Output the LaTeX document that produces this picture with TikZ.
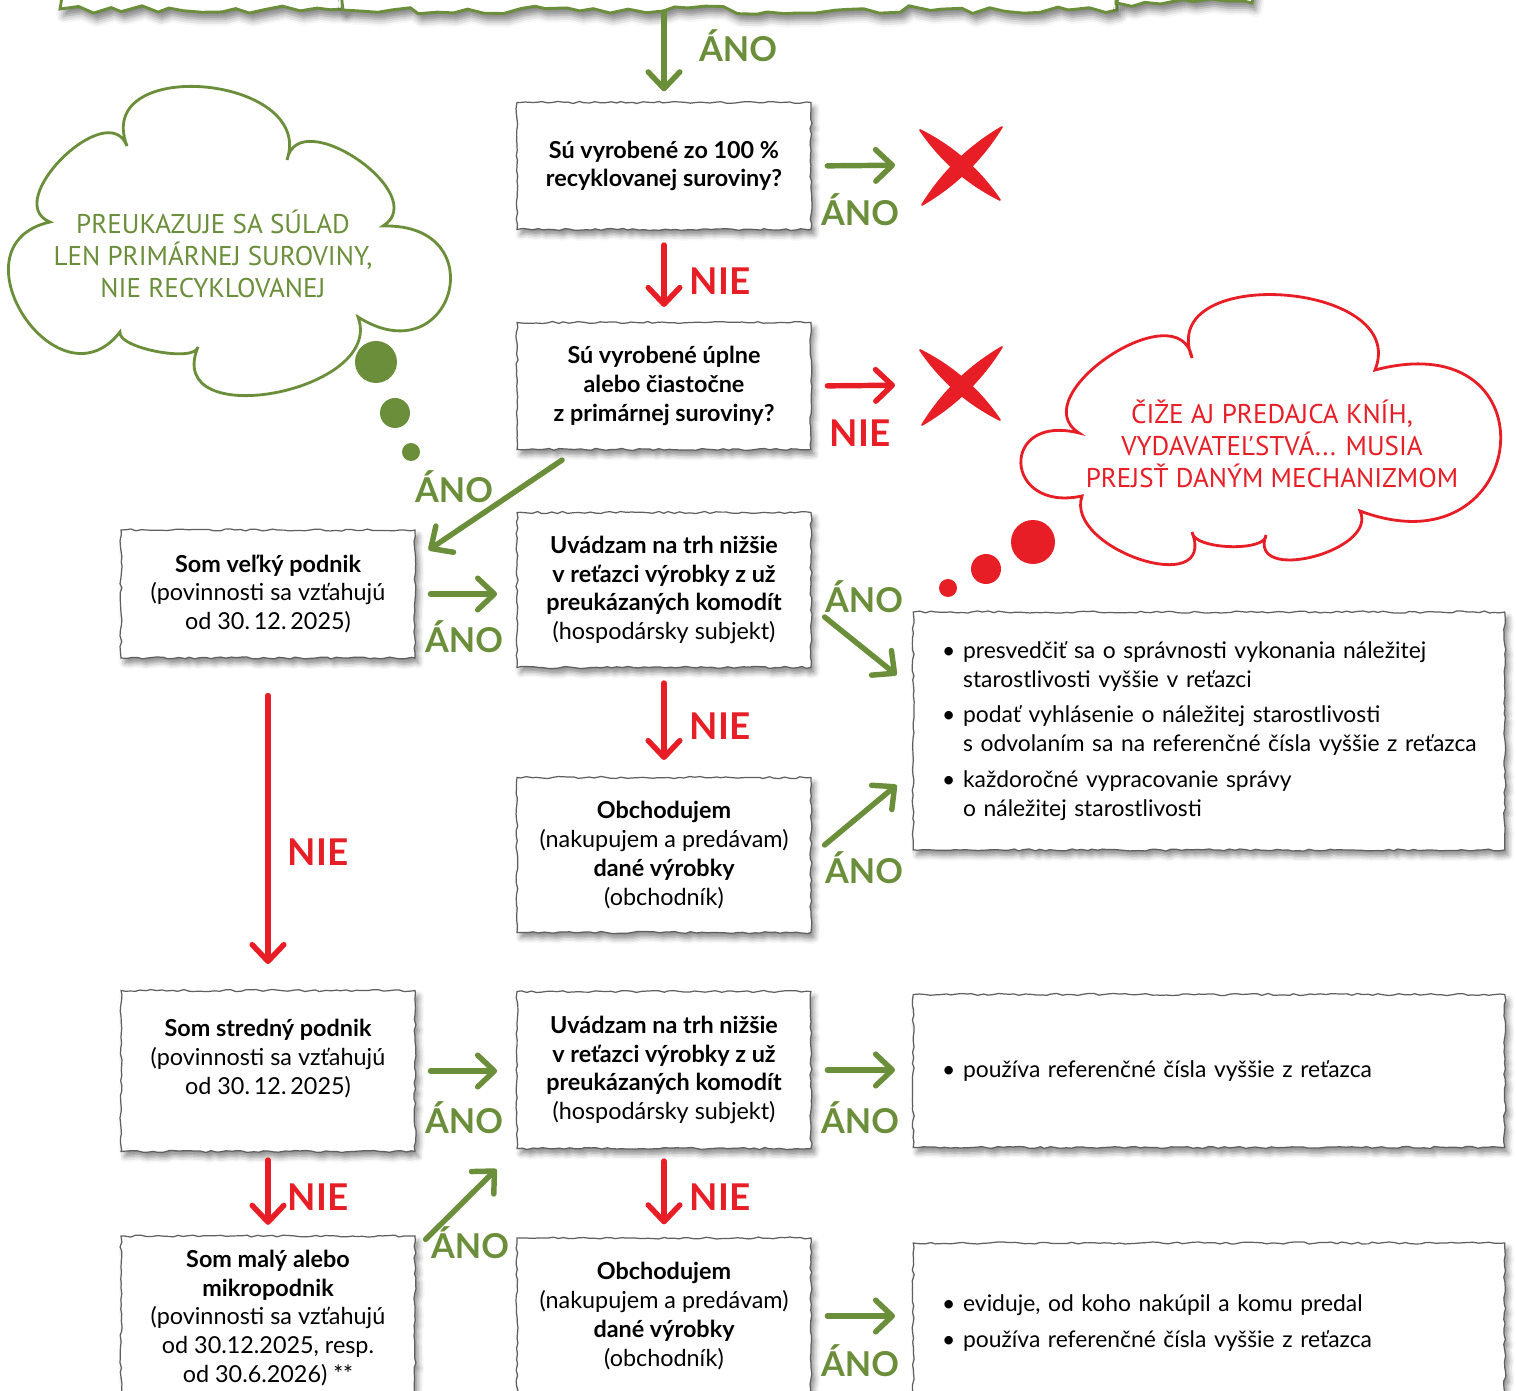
\documentclass[tikz,border=0pt]{standalone}
\usepackage{fontspec}
\setmainfont{Lato}
\newfontfamily\cloudfont{PT Sans}
\usetikzlibrary{arrows.meta,decorations.pathmorphing,shadows.blur}

\definecolor{leafgreen}{RGB}{107,142,58}
\definecolor{signred}{RGB}{232,30,38}
\definecolor{edgegray}{RGB}{95,95,95}

\newcommand{\bulletline}[1]{\mbox{\makebox[12pt][l]{\textbullet}#1}}
\newcommand{\contline}[1]{\mbox{\hspace*{12pt}#1}}

\tikzset{
	paper/.style = {draw=edgegray, fill=white, line width=0.7pt,
		decorate, decoration={random steps, segment length=3pt, amplitude=0.6pt},
		blur shadow={shadow xshift=2pt, shadow yshift=-3pt, shadow blur radius=3pt, shadow opacity=45},
		font=\fontsize{13.3}{16.4}\selectfont, align=center, minimum width=5.88cm},
	listbox/.style = {paper, align=left, text width=10.68cm, inner xsep=16.4pt, minimum width=0pt,
		font=\fontsize{13}{16.4}\selectfont},
	banner/.style = {draw=leafgreen, fill=white, line width=1.6pt,
		decorate, decoration={random steps, segment length=9pt, amplitude=2.4pt},
		blur shadow={shadow xshift=2pt, shadow yshift=-4pt, shadow blur radius=4pt, shadow opacity=50}},
	garrow/.style = {leafgreen, line width=3.1pt, line cap=round, -{Straight Barb[length=9.5pt, width=18pt, round]}},
	rarrow/.style = {garrow, signred},
	ano/.style = {text=leafgreen, font=\fontsize{19.5}{20}\selectfont\bfseries},
	nie/.style = {text=signred, font=\fontsize{21}{20}\selectfont\bfseries},
	puffline/.style = {line width=1.6pt, fill=white},
	cloudtext/.style = {align=center, font=\cloudfont\fontsize{15.4}{18.1}\selectfont},
	dot/.style = {circle, fill, inner sep=0pt},
	crossbox/.style = {minimum size=1.6cm, inner sep=0pt},
}

\begin{document}
\begin{tikzpicture}[x=0.02cm, y=-0.02cm]
	\clip (0,0) rectangle (1516,1391);
	
	% torn banner cut off at the top
	\draw[banner] (60,-80) rectangle (343,9);
	\draw[banner] (343,-80) rectangle (1117,10);
	\draw[banner] (1117,-80) rectangle (1252,3);
	\coordinate (bannerfoot) at (664,12);
	
	% thought clouds
	\draw[puffline, draw=leafgreen] (127,146) .. controls (92,55) and (316,75) .. (287,160)
		.. controls (298,102) and (433,195) .. (383,226)
		.. controls (496,223) and (453,377) .. (358,317)
		.. controls (386,392) and (162,434) .. (198,347)
		.. controls (195,363) and (117,348) .. (120,332)
		.. controls (58,412) and (-52,245) .. (50,222)
		.. controls (0,202) and (108,96) .. cycle;
	\node[cloudtext, text=leafgreen] (greencloud) at (213,254) {PREUKAZUJE SA SÚLAD\\LEN PRIMÁRNEJ SUROVINY,\\NIE RECYKLOVANEJ};
	\node[dot, leafgreen, minimum size=0.84cm] (gdot1) at (376,362) {};
	\node[dot, leafgreen, minimum size=0.6cm] (gdot2) at (395,413) {};
	\node[dot, leafgreen, minimum size=0.36cm] (gdot3) at (411,452) {};
	
	\draw[puffline, draw=signred] (1079,433) .. controls (1021,396) and (1180,290) .. (1192,358)
		.. controls (1155,263) and (1411,281) .. (1375,370)
		.. controls (1558,322) and (1531,575) .. (1360,511)
		.. controls (1379,551) and (1247,585) .. (1266,535)
		.. controls (1267,552) and (1193,550) .. (1192,532)
		.. controls (1218,600) and (1064,549) .. (1082,496)
		.. controls (1003,513) and (999,413) .. cycle;
	\node[cloudtext, text=signred] (redcloud) at (1272,444) {ČIŽE AJ PREDAJCA KNÍH,\\VYDAVATEĽSTVÁ... MUSIA\\PREJSŤ DANÝM MECHANIZMOM};
	\node[dot, signred, minimum size=0.88cm] (rdot1) at (1033,542) {};
	\node[dot, signred, minimum size=0.6cm] (rdot2) at (986,569) {};
	\node[dot, signred, minimum size=0.36cm] (rdot3) at (948,588) {};
	
	% boxes
	\node[paper, minimum height=2.54cm] (recycled) at (664,166) {\textbf{Sú vyrobené zo 100 \%}\\\textbf{recyklovanej suroviny?}};
	\node[paper, minimum height=2.54cm] (primary) at (664,386) {\textbf{Sú vyrobené úplne}\\\textbf{alebo čiastočne}\\\textbf{z primárnej suroviny?}};
	\node[paper, minimum height=2.56cm] (large) at (268,594) {\textbf{Som veľký podnik}\\(povinnosti sa vzťahujú\\od 30.\,12.\,2025)};
	\node[paper, minimum height=3.1cm] (market1) at (664,590) {\textbf{Uvádzam na trh nižšie}\\\textbf{v reťazci výrobky z už}\\\textbf{preukázaných komodít}\\(hospodársky subjekt)};
	\node[paper, minimum height=3.1cm] (trade1) at (664,855) {\textbf{Obchodujem}\\(nakupujem a predávam)\\\textbf{dané výrobky}\\(obchodník)};
	\node[listbox, minimum height=4.76cm] (duties1) at (1209,731) {%
		\bulletline{presvedčiť sa o správnosti vykonania náležitej}\\
		\contline{starostlivosti vyššie v reťazci}\\[4pt]
		\bulletline{podať vyhlásenie o náležitej starostlivosti}\\
		\contline{s odvolaním sa na referenčné čísla vyššie z reťazca}\\[4pt]
		\bulletline{každoročné vypracovanie správy}\\
		\contline{o náležitej starostlivosti}};
	
	\node[paper, minimum height=3.22cm] (medium) at (268,1071) {\textbf{Som stredný podnik}\\(povinnosti sa vzťahujú\\od 30.\,12.\,2025)\\ \mbox{}};
	\node[paper, minimum height=3.14cm] (market2) at (664,1070) {\textbf{Uvádzam na trh nižšie}\\\textbf{v reťazci výrobky z už}\\\textbf{preukázaných komodít}\\(hospodársky subjekt)};
	\node[listbox, minimum height=3.06cm] (duties2) at (1209,1071) {\bulletline{používa referenčné čísla vyššie z reťazca}};
	
	\node[paper, minimum height=3.28cm] (small) at (268,1318) {\textbf{Som malý alebo}\\\textbf{mikropodnik}\\(povinnosti sa vzťahujú\\od 30.12.2025, resp.\\od 30.6.2026) **};
	\node[paper, minimum height=3.12cm] (trade2) at (664,1316) {\textbf{Obchodujem}\\(nakupujem a predávam)\\\textbf{dané výrobky}\\(obchodník)};
	\node[listbox, minimum height=3.2cm] (duties3) at (1209,1323) {%
		\bulletline{eviduje, od koho nakúpil a komu predal}\\[4pt]
		\bulletline{používa referenčné čísla vyššie z reťazca}};
	
	% red crosses
	\node[crossbox] (cross1) at (960,165) {};
	\node[crossbox] (cross2) at (960,385) {};
	\foreach \c in {cross1, cross2} {
		\begin{scope}[shift={(\c)}]
			\filldraw[signred, line width=1pt, line join=round] (-38,40) .. controls (-17.9,7.4) and (8.7,-18.6) .. (42,-38) .. controls (21.9,-5.4) and (-4.7,20.6) .. cycle;
			\filldraw[signred, line width=1pt, line join=round] (-40,-35) .. controls (-19.4,-4.7) and (7.2,18.7) .. (40,35) .. controls (19.4,4.7) and (-7.2,-18.7) .. cycle;
		\end{scope}
	}
	
	% connectors
	\draw[garrow, shorten >=6pt] (bannerfoot) -- (recycled.north);
	\draw[garrow, shorten <=9pt, shorten >=14pt] (recycled.east) -- (cross1.west);
	\draw[rarrow, shorten <=8.5pt, shorten >=8.5pt] (recycled.south) -- (primary.north);
	\draw[rarrow, shorten <=9pt, shorten >=14pt] (primary.east) -- (cross2.west);
	\draw[garrow] ([shift={(-102,10)}]primary.south) -- ([shift={(13,-44)}]large.east);
	\draw[garrow, shorten <=8.5pt, shorten >=11pt] (large.east) -- (large.east -| market1.west);
	\draw[garrow] ([shift={(13,27)}]market1.east) -- ([shift={(-16,-56)}]duties1.west);
	\draw[rarrow, shorten <=8.5pt, shorten >=9.6pt] (market1.south) -- (trade1.north);
	\draw[garrow] ([shift={(13,-10)}]trade1.east) -- ([shift={(-16,54)}]duties1.west);
	\draw[rarrow, shorten <=21pt, shorten >=14.7pt] (large.south) -- (medium.north);
	\draw[garrow, shorten <=8.5pt, shorten >=11pt] (medium.east) -- (medium.east -| market2.west);
	\draw[garrow, shorten <=9pt, shorten >=10pt] (market2.east) -- (market2.east -| duties2.west);
	\draw[rarrow, shorten <=4.5pt, shorten >=6pt] (medium.south) -- (small.north);
	\draw[garrow] ([shift={(10,4)}]small.north east) -- ([shift={(-20,20)}]market2.south west);
	\draw[rarrow, shorten <=6.8pt, shorten >=7.4pt] (market2.south) -- (trade2.north);
	\draw[garrow, shorten <=9pt, shorten >=10pt] (trade2.east) -- (trade2.east -| duties3.west);
	
	% labels
	\node[ano] (ano1) at (738,46) {ÁNO};
	\node[ano] (ano2) at (860,210) {ÁNO};
	\node[nie] (nie1) at (720,281) {NIE};
	\node[nie] (nie2) at (860,433) {NIE};
	\node[ano] (ano3) at (454,487) {ÁNO};
	\node[ano] (ano4) at (464,637) {ÁNO};
	\node[ano] (ano5) at (864,597) {ÁNO};
	\node[nie] (nie3) at (720,726) {NIE};
	\node[ano] (ano6) at (864,868) {ÁNO};
	\node[nie] (nie4) at (318,852) {NIE};
	\node[ano] (ano7) at (464,1118) {ÁNO};
	\node[ano] (ano8) at (860,1118) {ÁNO};
	\node[nie] (nie5) at (318,1197) {NIE};
	\node[ano] (ano9) at (470,1243) {ÁNO};
	\node[nie] (nie6) at (720,1197) {NIE};
	\node[ano] (ano10) at (860,1361) {ÁNO};
\end{tikzpicture}
\end{document}
